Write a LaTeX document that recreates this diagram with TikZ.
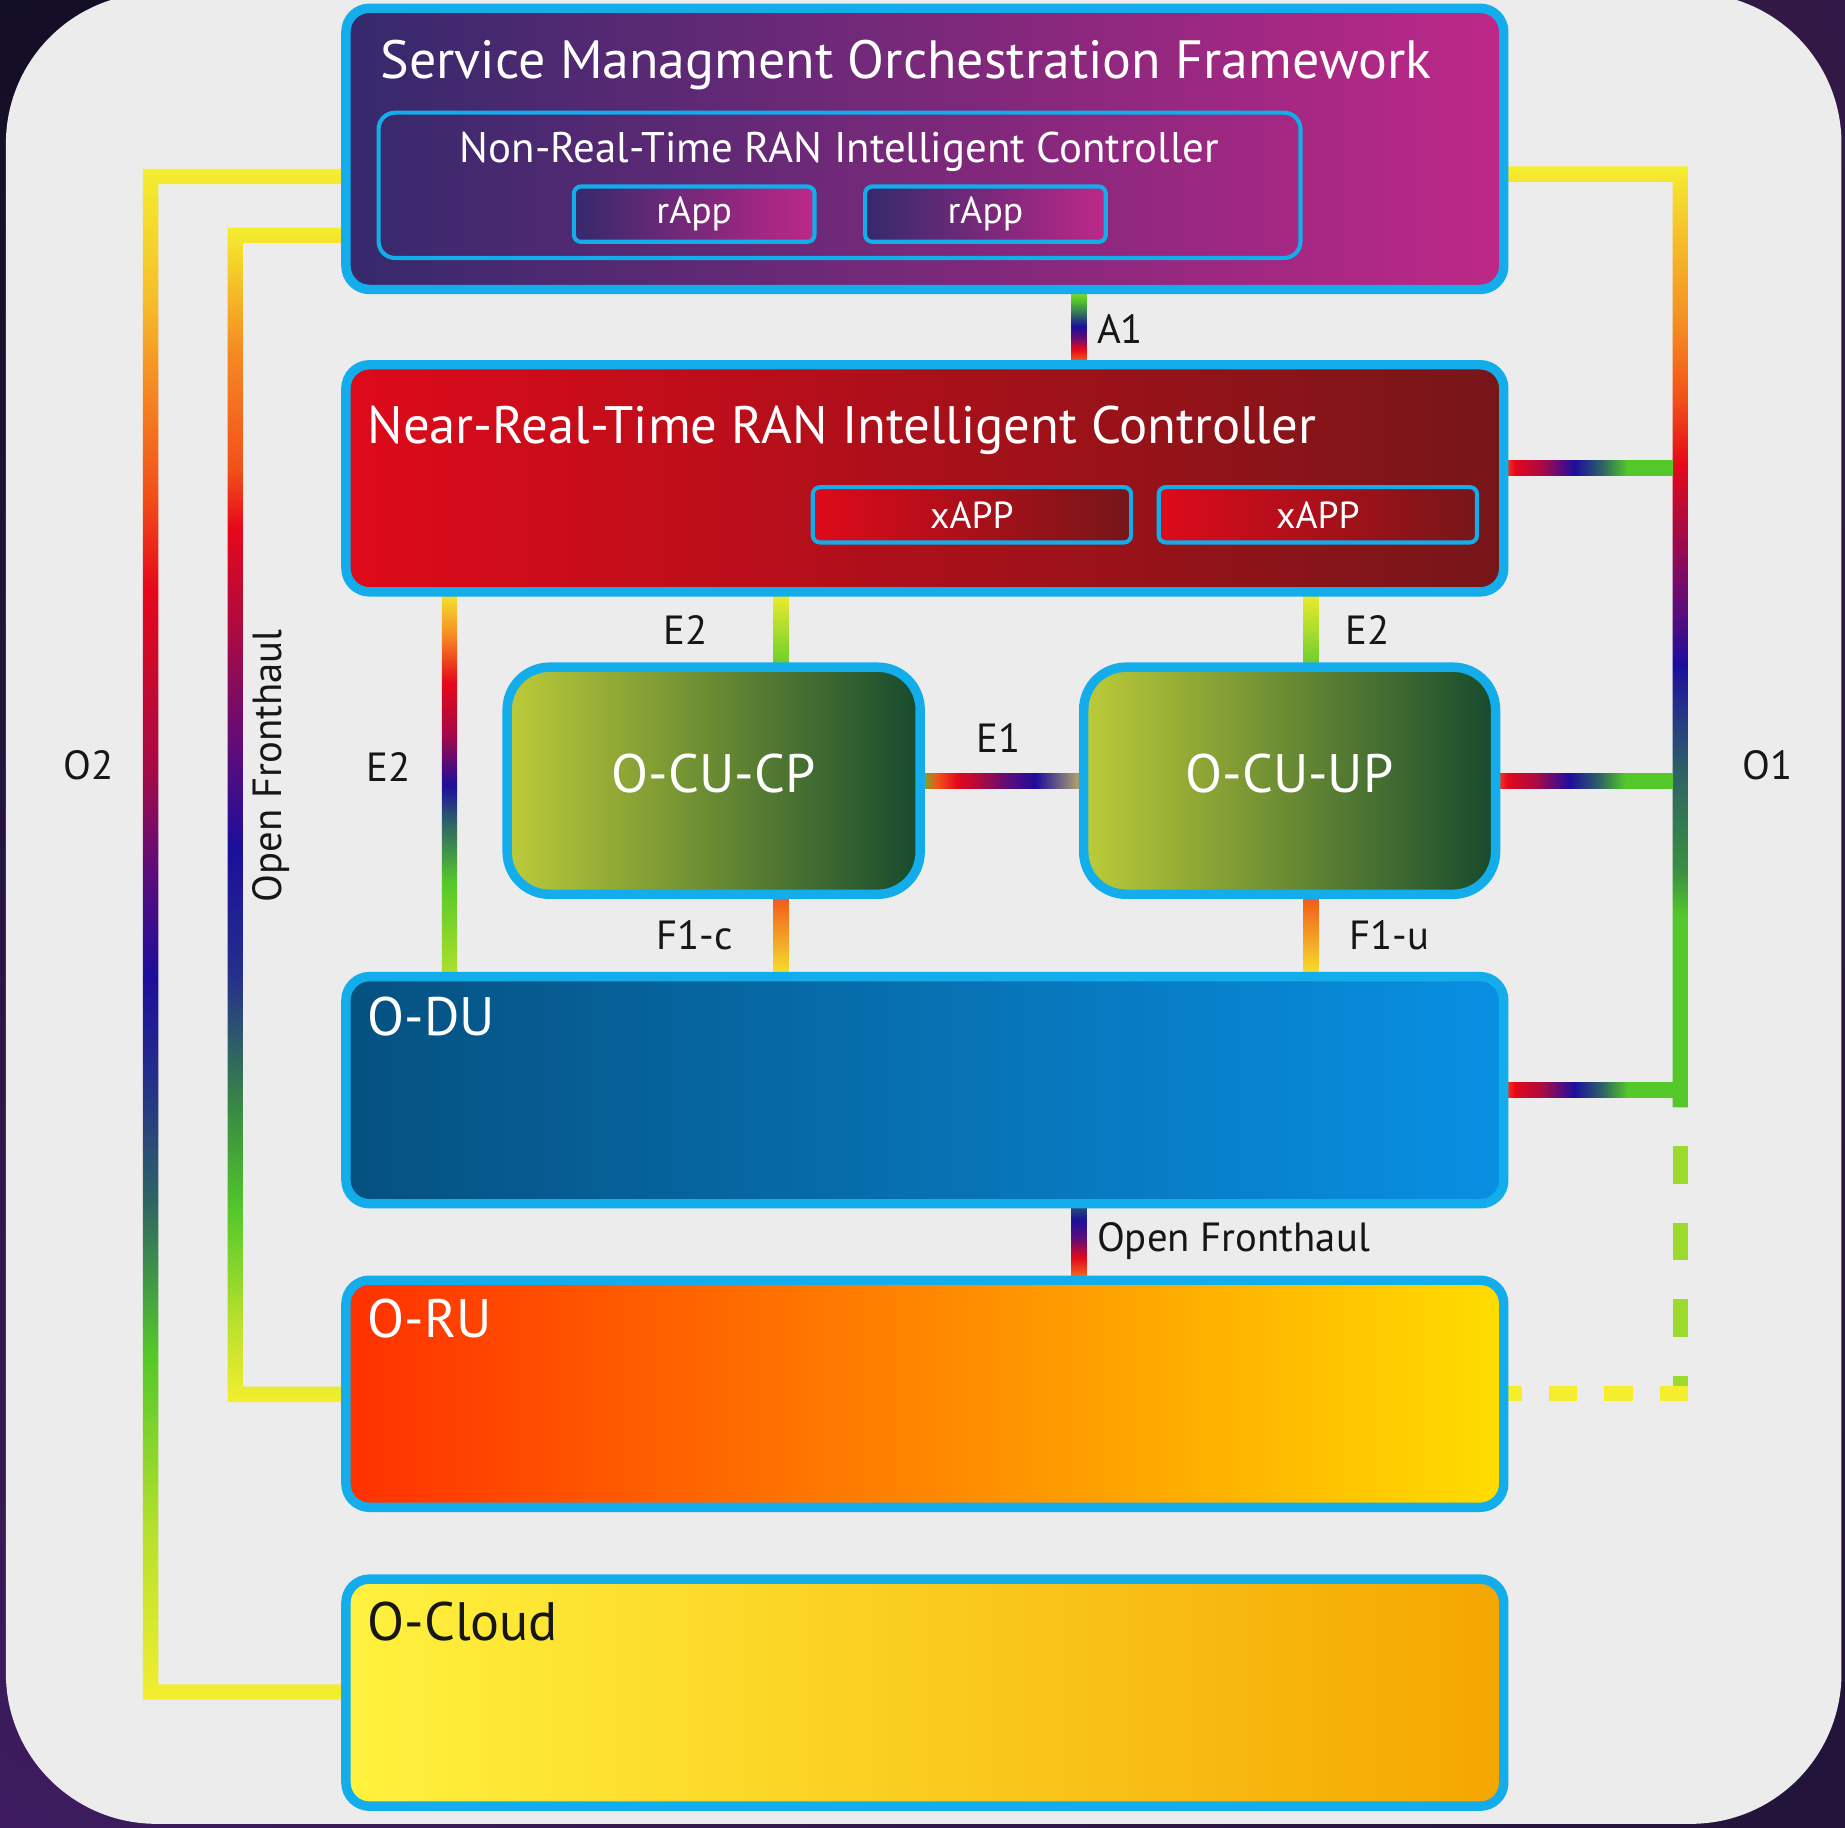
\documentclass[tikz,border=0pt]{standalone}
\usepackage{fontspec}
\setmainfont{PT Sans}
\usetikzlibrary{calc,shadings}

% palette
\definecolor{cyanb}{HTML}{12ADEA}
\definecolor{panel}{HTML}{ECECEC}
\definecolor{ink}{HTML}{161616}
\definecolor{cYel}{HTML}{F4EE2E}
\definecolor{cYelOr}{HTML}{F6C02A}
\definecolor{cOrange}{HTML}{F58A22}
\definecolor{cOrRed}{HTML}{F2501A}
\definecolor{cRed}{HTML}{E6081A}
\definecolor{cCrim}{HTML}{A80A44}
\definecolor{cPurp}{HTML}{5A0C7C}
\definecolor{cBlue}{HTML}{1C0E9C}
\definecolor{cDkBlue}{HTML}{24308A}
\definecolor{cTeal}{HTML}{2E6464}
\definecolor{cTealGrn}{HTML}{3A9040}
\definecolor{cGrn}{HTML}{54C82A}
\definecolor{cYelGrn}{HTML}{B4E02C}
\definecolor{cTan}{HTML}{A89A70}
% block fills
\definecolor{smoL}{HTML}{35296C}
\definecolor{smoR}{HTML}{BE2888}
\definecolor{nrtL}{HTML}{DE0A1A}
\definecolor{nrtR}{HTML}{761619}
\definecolor{cuL}{HTML}{BCCB38}
\definecolor{cuM}{HTML}{6A963A}
\definecolor{cuR}{HTML}{164A2E}
\definecolor{duL}{HTML}{055180}
\definecolor{duR}{HTML}{0890E3}
\definecolor{ruL}{HTML}{FF3000}
\definecolor{ruM}{HTML}{FF8200}
\definecolor{ruR}{HTML}{FFDD00}
\definecolor{clL}{HTML}{FFF23E}
\definecolor{clR}{HTML}{F5A600}
\definecolor{bgA}{HTML}{120E24}
\definecolor{bgB}{HTML}{321846}
\definecolor{bgC}{HTML}{3E1C60}
\definecolor{bgD}{HTML}{22143A}

% rainbow gradients for the interface links (25bp..75bp is fitted to the path)
\pgfdeclareverticalshading{sO2}{100bp}{color(0bp)=(cYel); color(25bp)=(cYel); color(30.6bp)=(cYelGrn); color(36.3bp)=(cGrn); color(41.3bp)=(cTeal); color(45.2bp)=(cDkBlue); color(48.6bp)=(cBlue); color(52bp)=(cPurp); color(55.5bp)=(cCrim); color(61.3bp)=(cRed); color(64.4bp)=(cOrRed); color(67.9bp)=(cOrange); color(70.9bp)=(cYelOr); color(75bp)=(cYel); color(100bp)=(cYel)}
\pgfdeclareverticalshading{sOFH}{100bp}{color(0bp)=(cYel); color(25bp)=(cYel); color(28.6bp)=(cYelGrn); color(33.1bp)=(cGrn); color(37.1bp)=(cTealGrn); color(43.1bp)=(cDkBlue); color(48.6bp)=(cBlue); color(52.6bp)=(cPurp); color(57.6bp)=(cCrim); color(62.2bp)=(cRed); color(64.7bp)=(cOrRed); color(69.7bp)=(cOrange); color(75bp)=(cYel); color(100bp)=(cYel)}
\pgfdeclareverticalshading{sO1}{100bp}{color(0bp)=(cGrn); color(35.1bp)=(cGrn); color(37.6bp)=(cTealGrn); color(42.6bp)=(cTeal); color(46.3bp)=(cDkBlue); color(48.5bp)=(cBlue); color(51.3bp)=(cPurp); color(55.7bp)=(cCrim); color(59.2bp)=(cRed); color(62.6bp)=(cOrRed); color(66.4bp)=(cOrange); color(71.4bp)=(cYelOr); color(75bp)=(cYel); color(100bp)=(cYel)}
\pgfdeclarehorizontalshading{sRainH}{100bp}{color(0bp)=(cOrange); color(25bp)=(cOrange); color(30bp)=(cRed); color(38bp)=(cCrim); color(43bp)=(cPurp); color(47bp)=(cBlue); color(55bp)=(cTeal); color(62bp)=(cGrn); color(100bp)=(cGrn)}
\pgfdeclareverticalshading{sA1}{100bp}{color(0bp)=(cOrange); color(25bp)=(cOrange); color(36bp)=(cRed); color(44bp)=(cPurp); color(50.5bp)=(cBlue); color(57.5bp)=(cTeal); color(67bp)=(cGrn); color(75bp)=(cYelGrn); color(100bp)=(cYelGrn)}
\pgfdeclareverticalshading{sOF}{100bp}{color(0bp)=(cOrange); color(25bp)=(cOrange); color(40bp)=(cRed); color(53bp)=(cPurp); color(63.5bp)=(cBlue); color(75bp)=(cTeal); color(100bp)=(cTeal)}
\pgfdeclareverticalshading{sE2L}{100bp}{color(0bp)=(cYelGrn); color(25bp)=(cYelGrn); color(37.5bp)=(cGrn); color(45bp)=(cTeal); color(49.8bp)=(cBlue); color(56.6bp)=(cCrim); color(63bp)=(cRed); color(69.1bp)=(cOrange); color(75bp)=(cYel); color(100bp)=(cYel)}
\pgfdeclarehorizontalshading{sE1}{100bp}{color(0bp)=(cGrn); color(25bp)=(cGrn); color(31bp)=(cOrRed); color(36.5bp)=(cRed); color(44bp)=(cCrim); color(52bp)=(cPurp); color(60bp)=(cBlue); color(72bp)=(cTan); color(100bp)=(cTan)}

\pgfdeclarelayer{panellayer}
\pgfdeclarelayer{links}
\pgfsetlayers{panellayer,links,main}

\tikzset{
  bigbox/.style={draw=cyanb, line width=4pt, rounded corners=10pt, inner sep=0pt,
    minimum width=492pt, minimum height=96.5pt},
  cubox/.style={draw=cyanb, line width=4pt, rounded corners=18pt, inner sep=0pt,
    minimum width=175.5pt, minimum height=96.5pt, text=white, text depth=6pt,
    left color=cuL, middle color=cuM, right color=cuR,
    font=\fontsize{23}{28}\selectfont},
  appbox/.style={draw=cyanb, line width=1.75pt, rounded corners=3pt, inner sep=0pt,
    minimum height=23.5pt, text=white, font=\fontsize{16}{19}\selectfont},
  ttl/.style={text=white, anchor=base west, inner sep=0pt, font=\fontsize{23}{28}\selectfont},
  lbl/.style={text=ink, inner sep=0pt, font=\fontsize{17.3}{20}\selectfont},
  dashv/.style={draw=cYelGrn!75!cGrn, line width=6.5pt, dash pattern=on 16pt off 16.5pt, dash phase=16pt},
  dashh/.style={draw=cYel, line width=6.5pt, dash pattern=on 12pt off 11.5pt}
}

\begin{document}
\begin{tikzpicture}[x=0.5pt,y=-0.5pt]
\useasboundingbox (0,0) rectangle (1568,1552.7);

% ---------------- blocks ----------------
\node[bigbox, minimum height=119.5pt, left color=smoL, right color=smoR] (smo) at (786,126.5) {};
\node[draw=cyanb, line width=1.75pt, rounded corners=7pt, minimum width=391.75pt,
      minimum height=61.75pt, inner sep=0pt] (nonrt) at (713.5,157.5) {};
\node[appbox, minimum width=102.25pt, left color=smoL, right color=smoR] (rapp1) at (590,182) {rApp};
\node[appbox, minimum width=102.25pt, left color=smoL, right color=smoR] (rapp2) at (837.5,182) {rApp};

\node[bigbox, left color=nrtL, right color=nrtR] (nrt) at (786,406.5) {};
\node[appbox, minimum width=135.25pt, left color=nrtL, right color=nrtR] (xapp1) at (826,437.5) {xAPP};
\node[appbox, minimum width=135.25pt, left color=nrtL, right color=nrtR] (xapp2) at (1120,437.5) {xAPP};

\node[cubox] (ocucp) at (606.5,663.5) {O-CU-CP};
\node[cubox, minimum width=175pt] (ocuup) at (1096,663.5) {O-CU-UP};

\node[bigbox, left color=duL, right color=duR] (odu) at (786,926.5) {};
\node[bigbox, left color=ruL, middle color=ruM, right color=ruR] (oru) at (786,1184.5) {};
\node[bigbox, left color=clL, right color=clR] (ocloud) at (786,1438.5) {};

% ---------------- block titles ----------------
\node[ttl, font=\fontsize{22.9}{28}\selectfont] (smot) at (323,67) {Service Managment Orchestration Framework};
\node[text=white, anchor=base, inner sep=0pt, font=\fontsize{18.2}{22}\selectfont] (nonrtt) at (713.5,138) {Non-Real-Time RAN Intelligent Controller};
\node[ttl, font=\fontsize{22.4}{28}\selectfont] (nrtt) at (312,377) {Near-Real-Time RAN Intelligent Controller};
\node[ttl] (odut) at (312,880) {O-DU};
\node[ttl] (orut) at (312,1137) {O-RU};
\node[ttl, text=ink] (ocloudt) at (312,1394) {O-Cloud};

% ---------------- panel ----------------
\begin{pgfonlayer}{panellayer}
  \shade[upper left=bgA, upper right=bgB, lower left=bgC, lower right=bgD] (0,0) rectangle (1568,1552.7);
  \fill[panel, rounded corners=64pt] (5,-6) rectangle (1565,1550);
\end{pgfonlayer}

% ---------------- interface links ----------------
\coordinate (o2t) at (128,150);
\coordinate (o2b) at (128,1438);
\coordinate (oft) at (200,200);
\coordinate (ofb) at (200,1185);
\coordinate (o1t) at (1428,148);
\coordinate (o1e) at (1428,941);
\coordinate (o1n) at (1428,398);
\coordinate (xa1) at (917,0);
\coordinate (xe2a) at (664,0);
\coordinate (xe2b) at (1114,0);
\coordinate (xe2c) at (382,0);
\coordinate (dcorner) at (o1e |- oru.east);

\begin{pgfonlayer}{links}
  % O2: SMO -> O-Cloud
  \shade[shading=sO2]
    ($(o2t)+(-6.5,-6.5)$) rectangle ($(smo.west |- o2t)+(10,6.5)$)
    ($(o2t)+(-6.5,-6.5)$) rectangle ($(o2b)+(6.5,6.5)$)
    ($(o2b)+(-6.5,-6.5)$) rectangle ($(ocloud.west |- o2b)+(10,6.5)$);
  % Open Fronthaul (M-plane): SMO -> O-RU
  \shade[shading=sOFH]
    ($(oft)+(-6.5,-6.5)$) rectangle ($(smo.west |- oft)+(10,6.5)$)
    ($(oft)+(-6.5,-6.5)$) rectangle ($(ofb)+(6.5,6.5)$)
    ($(ofb)+(-6.5,-6.5)$) rectangle ($(oru.west |- ofb)+(10,6.5)$);
  % O1 trunk
  \shade[shading=sO1]
    ($(smo.east |- o1t)+(-10,-6.5)$) rectangle ($(o1t)+(6.5,6.5)$)
    ($(o1t)+(-6.5,-6.5)$) rectangle ($(o1e)+(6.5,0)$);
  % O1 branches
  \shade[shading=sRainH] ($(nrt.east |- o1n)+(-10,-6.5)$) rectangle ($(o1n)+(-6,6.5)$);
  \shade[shading=sRainH] ($(ocuup.east)+(-10,-6.5)$) rectangle ($(ocuup.east -| o1t)+(-6,6.5)$);
  \shade[shading=sRainH] ($(odu.east)+(-10,-6.5)$) rectangle ($(odu.east -| o1t)+(-6,6.5)$);
  % O1 towards O-RU (dashed)
  \draw[dashv] (o1e) -- ($(dcorner)+(0,6.5)$);
  \draw[dashh] ($(dcorner)+(6.5,0)$) -- (oru.east);
  % A1
  \shade[shading=sA1] ($(smo.south -| xa1)+(-6.5,-6)$) rectangle ($(nrt.north -| xa1)+(6.5,6)$);
  % E2 links
  \shade[top color=cYel, bottom color=cGrn!85!cYelGrn] ($(nrt.south -| xe2a)+(-6.5,-6)$) rectangle ($(ocucp.north -| xe2a)+(6.5,6)$);
  \shade[top color=cYel, bottom color=cGrn!85!cYelGrn] ($(nrt.south -| xe2b)+(-6.5,-6)$) rectangle ($(ocuup.north -| xe2b)+(6.5,6)$);
  \shade[shading=sE2L] ($(nrt.south -| xe2c)+(-6.5,-6)$) rectangle ($(odu.north -| xe2c)+(6.5,6)$);
  % E1
  \shade[shading=sE1] ($(ocucp.east)+(-6,-6.5)$) rectangle ($(ocuup.west)+(6,6.5)$);
  % F1-c / F1-u
  \shade[top color=cOrRed, bottom color=cYel!90!cYelOr] ($(ocucp.south -| xe2a)+(-6.5,-6)$) rectangle ($(odu.north -| xe2a)+(6.5,6)$);
  \shade[top color=cOrRed, bottom color=cYel!90!cYelOr] ($(ocuup.south -| xe2b)+(-6.5,-6)$) rectangle ($(odu.north -| xe2b)+(6.5,6)$);
  % Open Fronthaul: O-DU -> O-RU
  \shade[shading=sOF] ($(odu.south -| xa1)+(-6.5,-6)$) rectangle ($(oru.north -| xa1)+(6.5,6)$);
\end{pgfonlayer}

% ---------------- link labels ----------------
\node[lbl, anchor=west] (la1) at (932,280) {A1};
\node[lbl] (le2a) at (583,535) {E2};
\node[lbl] (le2b) at (1162,535) {E2};
\node[lbl] (le2c) at (330,652) {E2};
\node[lbl] (le1) at (849,627) {E1};
\node[lbl] (lf1c) at (590,795) {F1-c};
\node[lbl] (lf1u) at (1181,795) {F1-u};
\node[lbl, anchor=west] (lofh) at (932,1055) {Open Fronthaul};
\node[lbl, rotate=90] (lofv) at (230,651) {Open Fronthaul};
\node[lbl] (lo2) at (75,650) {O2};
\node[lbl] (lo1) at (1502,650) {O1};
\end{tikzpicture}
\end{document}
